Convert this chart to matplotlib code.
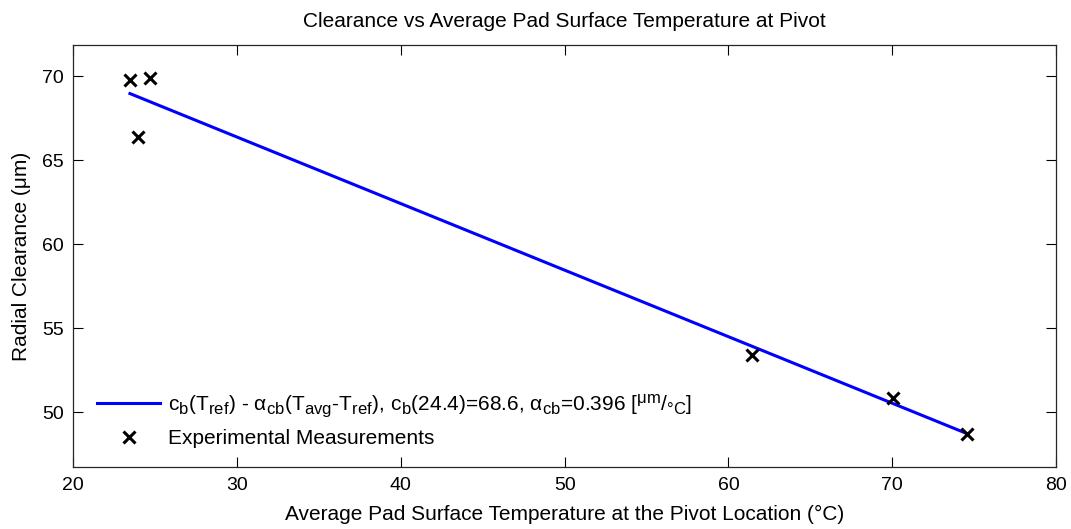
import matplotlib
matplotlib.use("Agg")
import matplotlib.pyplot as plt
import matplotlib._mathtext as _mt
import numpy as np

plt.rcParams["font.family"] = ["Liberation Sans", "DejaVu Sans"]
plt.rcParams["mathtext.fontset"] = "custom"
plt.rcParams["mathtext.rm"] = "Liberation Sans"
plt.rcParams["mathtext.it"] = "Liberation Sans:italic"
plt.rcParams["mathtext.bf"] = "Liberation Sans:bold"
_mt.SHRINK_FACTOR = 0.8   # MATLAB-ish larger sub/superscripts

# --- data ---
temp_avg = [23.46, 24.68, 23.97, 61.42, 70.06, 74.54]     # deg C
clearance = [69.78, 69.88, 66.40, 53.44, 50.84, 48.74]    # um
T_REF = 24.4
CB_REF = 68.6
ALPHA_CB = 0.396

xticks = [20, 30, 40, 50, 60, 70, 80]
yticks = [50, 55, 60, 65, 70]

# fitted line over the measured range
t_fit = np.array([min(temp_avg), max(temp_avg)])
c_fit = CB_REF - ALPHA_CB * (t_fit - T_REF)

fig = plt.figure(figsize=(10.71, 5.29), dpi=100)
ax = fig.add_axes([0.0684, 0.117, 0.9176, 0.7985])

fit_label = (r"c$_\mathrm{b}$(T$_\mathrm{ref}$) - α$_\mathrm{cb}$(T$_\mathrm{avg}$-T$_\mathrm{ref}$), "
             r"c$_\mathrm{b}$(24.4)=68.6, α$_\mathrm{cb}$=0.396 [$^\mathrm{μm}$/$_\mathrm{°C}$]")
ax.plot(t_fit, c_fit, "-", color="#0000ff", lw=2.2, label=fit_label)
ax.plot(temp_avg, clearance, "x", color="black", ms=9, mew=2.2,
        label="Experimental Measurements")

ax.set_xlim(20, 80)
ax.set_ylim(min(clearance) - 2, max(clearance) + 2)
ax.set_xticks(xticks)
ax.set_yticks(yticks)
ax.tick_params(direction="in", length=7, width=0.8, labelsize=14,
               top=True, right=True, pad=7)
for s in ax.spines.values():
    s.set_color("#262626")
    s.set_linewidth(0.9)

ax.set_title("Clearance vs Average Pad Surface Temperature at Pivot",
             fontsize=15, pad=13)
ax.set_xlabel("Average Pad Surface Temperature at the Pivot Location (°C)",
              fontsize=15, labelpad=8)
ax.set_ylabel("Radial Clearance (μm)", fontsize=15, labelpad=8)

ax.legend(loc="lower left", frameon=False, fontsize=15, handlelength=3.0,
          handletextpad=0.4, labelspacing=0.5, borderaxespad=0.0,
          bbox_to_anchor=(0.016, 0.025))

fig.savefig("out.png", dpi=100)
